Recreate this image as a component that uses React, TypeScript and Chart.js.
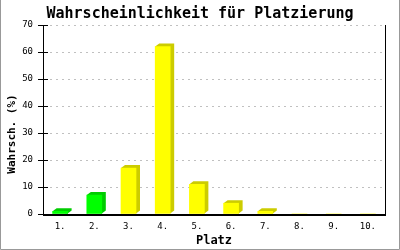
import React, { useEffect, useRef } from 'react';
import { Chart, registerables } from 'chart.js';

Chart.register(...registerables);

const places = ['1.', '2.', '3.', '4.', '5.', '6.', '7.', '8.', '9.', '10.'];
const probabilities = [1, 7, 17, 62, 11, 4, 1, 0, 0, 0];
const frontColors = ['#00ff00', '#00ff00', '#ffff00', '#ffff00', '#ffff00', '#ffff00', '#ffff00', '#ffff00', '#ffff00', '#ffff00'];
const sideColors = ['#00cc00', '#00cc00', '#cccc00', '#cccc00', '#cccc00', '#cccc00', '#cccc00', '#cccc00', '#cccc00', '#cccc00'];
const yMin = 0;
const yMax = 70;
const yStep = 10;
const titleText = 'Wahrscheinlichkeit für Platzierung';
const xTitleText = 'Platz';
const yTitleText = 'Wahrsch. (%)';

const MONO = "'DejaVu Sans Mono', 'Liberation Mono', monospace";
const DEPTH_X = 4;
const DEPTH_Y = 3;

const bar3d = {
  id: 'bar3d',
  beforeDatasetsDraw(chart: any) {
    const ctx = chart.ctx;
    const meta = chart.getDatasetMeta(0);
    meta.data.forEach((el: any, i: number) => {
      const { x, y, base, width } = el.getProps(['x', 'y', 'base', 'width'], true);
      if (base - y < 0.5) return;
      const l = x - width / 2;
      const r = x + width / 2;
      ctx.save();
      ctx.fillStyle = sideColors[i];
      ctx.beginPath();
      ctx.moveTo(l, y);
      ctx.lineTo(l + DEPTH_X, y - DEPTH_Y);
      ctx.lineTo(r + DEPTH_X, y - DEPTH_Y);
      ctx.lineTo(r + DEPTH_X, base - DEPTH_Y);
      ctx.lineTo(r, base);
      ctx.closePath();
      ctx.fill();
      ctx.restore();
    });
  },
  afterDraw(chart: any) {
    const ctx = chart.ctx;
    const { left, right, top, bottom } = chart.chartArea;
    const yScale = chart.scales.y;
    ctx.save();
    ctx.setLineDash([]);
    ctx.strokeStyle = '#000';
    ctx.lineWidth = 1;
    ctx.beginPath();
    const rx = Math.round(right) + 0.5;
    ctx.moveTo(rx, top);
    ctx.lineTo(rx, bottom);
    yScale.ticks.forEach((t: any) => {
      const py = Math.round(yScale.getPixelForValue(t.value)) + 0.5;
      ctx.moveTo(left, py);
      ctx.lineTo(left + 5, py);
    });
    ctx.stroke();
    // x axis line (2px)
    ctx.fillStyle = '#000';
    ctx.fillRect(Math.round(left), Math.round(bottom), Math.round(right) - Math.round(left) + 1, 2);
    // outer frame
    ctx.strokeStyle = '#999';
    ctx.beginPath();
    ctx.moveTo(0.5, 0);
    ctx.lineTo(0.5, 249.5);
    ctx.lineTo(399.5, 249.5);
    ctx.lineTo(399.5, 0);
    ctx.stroke();
    // y-axis title
    ctx.translate(12, 134);
    ctx.rotate(-Math.PI / 2);
    ctx.fillStyle = '#000';
    ctx.font = `bold 11px ${MONO}`;
    ctx.textAlign = 'center';
    ctx.textBaseline = 'middle';
    ctx.fillText(yTitleText, 0, 0);
    ctx.restore();
  },
};

export default function App() {
  const ref = useRef<HTMLCanvasElement>(null);
  useEffect(() => {
    const chart = new Chart(ref.current as HTMLCanvasElement, {
      type: 'bar',
      data: {
        labels: places,
        datasets: [
          {
            data: probabilities,
            backgroundColor: frontColors,
            borderWidth: 0,
            barThickness: 15,
          },
        ],
      },
      options: {
        animation: false,
        responsive: false,
        maintainAspectRatio: false,
        devicePixelRatio: 1,
        layout: { padding: { left: 15, right: 15, top: 0, bottom: 0 } },
        plugins: {
          legend: { display: false },
          tooltip: { enabled: false },
          title: {
            display: true,
            text: titleText,
            color: '#000',
            font: { family: MONO, size: 15, weight: 'bold' },
            padding: { top: 5, bottom: 2 },
          },
        },
        scales: {
          x: {
            grid: { display: false, drawTicks: false },
            border: { display: false },
            ticks: {
              color: '#000',
              font: { family: MONO, size: 9 },
              padding: 7,
              maxRotation: 0,
              autoSkip: false,
            },
            title: {
              display: true,
              text: xTitleText,
              color: '#000',
              font: { family: MONO, size: 12, weight: 'bold' },
              padding: { top: 0, bottom: 2 },
            },
            afterFit: (s: any) => {
              s.height = 36;
            },
          },
          y: {
            min: yMin,
            max: yMax,
            ticks: {
              stepSize: yStep,
              color: '#000',
              font: { family: MONO, size: 9 },
              padding: 5,
            },
            grid: {
              color: (c: any) => (c.tick && c.tick.value === 0 ? 'rgba(0,0,0,0)' : '#c0c0c0'),
              tickColor: '#000',
              tickLength: 5,
              lineWidth: 1,
            },
            border: { display: true, color: '#000', width: 1, dash: [2, 4] },
            afterFit: (s: any) => {
              s.width = 28;
            },
          },
        },
      },
      plugins: [bar3d],
    } as any);
    return () => chart.destroy();
  }, []);
  return (
    <div style={{ position: 'fixed', left: 0, top: 0, width: 400, height: 250 }}>
      <canvas ref={ref} width={400} height={250} style={{ display: 'block' }} />
    </div>
  );
}
